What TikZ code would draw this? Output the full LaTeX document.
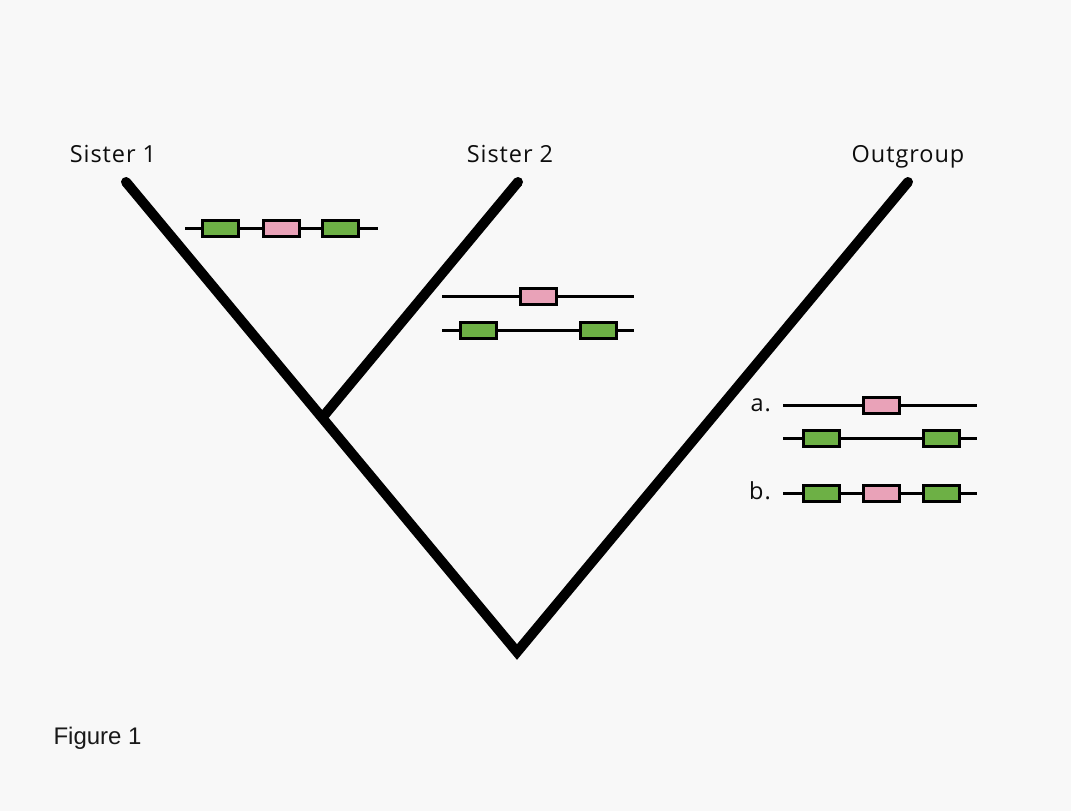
\documentclass[tikz,border=0pt]{standalone}
\usepackage{fontspec}
\setmainfont{Open Sans}
\newfontfamily\labfont[LetterSpace=4]{Open Sans}
\newfontfamily\capfont{Liberation Sans}
\definecolor{bg}{HTML}{F8F8F8}
\definecolor{genegreen}{HTML}{6DB045}
\definecolor{genepink}{HTML}{E9A2B8}
\begin{document}
\begin{tikzpicture}[x=1pt,y=-1pt,
  branch/.style={line width=10pt, line cap=round, line join=miter},
  chrom/.style={line width=3pt},
  genebox/.style={draw=black, line width=3pt, minimum width=36pt, minimum height=16pt, inner sep=0pt},
  gbox/.style={genebox, fill=genegreen},
  pbox/.style={genebox, fill=genepink},
  taxon/.style={font=\labfont\fontsize{23.5}{26}\selectfont, text=black!95, anchor=base, inner sep=0pt},
  tag/.style={font=\labfont\fontsize{23.5}{26}\selectfont, text=black!95, anchor=base east, inner sep=0pt}]
  % canvas
  \fill[bg] (0,0) rectangle (1071,811);
  \useasboundingbox (0,0) rectangle (1071,811);

  % tree
  \coordinate (tipA) at (126,182);
  \coordinate (tipB) at (518,182);
  \coordinate (tipC) at (908,182);
  \coordinate (root) at (517,652);
  \coordinate (fork) at (322,418);
  \draw[branch] (tipA) -- (root) -- (tipC);
  \draw[branch, line cap=butt] (fork) -- (tipB);
  \fill (tipB) circle (5pt);

  % taxon labels
  \node[taxon] (s1) at (113,162.5) {Sister 1};
  \node[taxon] (s2) at (510,162.5) {Sister 2};
  \node[taxon] (og) at (908,162.5) {Outgroup};

  % Sister 1 gene arrangement
  \coordinate (r1l) at (185,228);
  \coordinate (r1r) at (378,228);
  \draw[chrom] (r1l) -- (r1r);
  \node[gbox] (r1g1) at (220.5,228) {};
  \node[pbox] (r1p)  at (281.5,228) {};
  \node[gbox] (r1g2) at (340.5,228) {};

  % Sister 2 gene arrangement
  \coordinate (r2l) at (442,296);
  \coordinate (r2r) at (634,296);
  \draw[chrom] (r2l) -- (r2r);
  \node[pbox] (r2p) at (538,296) {};
  \coordinate (r3l) at (442,330);
  \coordinate (r3r) at (634,330);
  \draw[chrom] (r3l) -- (r3r);
  \node[gbox] (r3g1) at (478,330) {};
  \node[gbox] (r3g2) at (598,330) {};

  % Outgroup alternatives
  \coordinate (ral) at (783,405);
  \coordinate (rar) at (977,405);
  \draw[chrom] (ral) -- (rar);
  \node[pbox] (rap) at (881,405) {};
  \coordinate (ral2) at (783,438);
  \coordinate (rar2) at (977,438);
  \draw[chrom] (ral2) -- (rar2);
  \node[gbox] (rag1) at (821,438) {};
  \node[gbox] (rag2) at (941,438) {};
  \node[tag] (la) at (771,411) {a.};

  \coordinate (rbl) at (783,493);
  \coordinate (rbr) at (977,493);
  \draw[chrom] (rbl) -- (rbr);
  \node[gbox] (rbg1) at (821,493) {};
  \node[pbox] (rbp)  at (881,493) {};
  \node[gbox] (rbg2) at (941,493) {};
  \node[tag] (lb) at (771,499.5) {b.};

  % caption
  \node[anchor=west, font=\capfont\fontsize{24}{28}\selectfont, text=black!90] (cap) at (50,738) {Figure 1};
\end{tikzpicture}
\end{document}
